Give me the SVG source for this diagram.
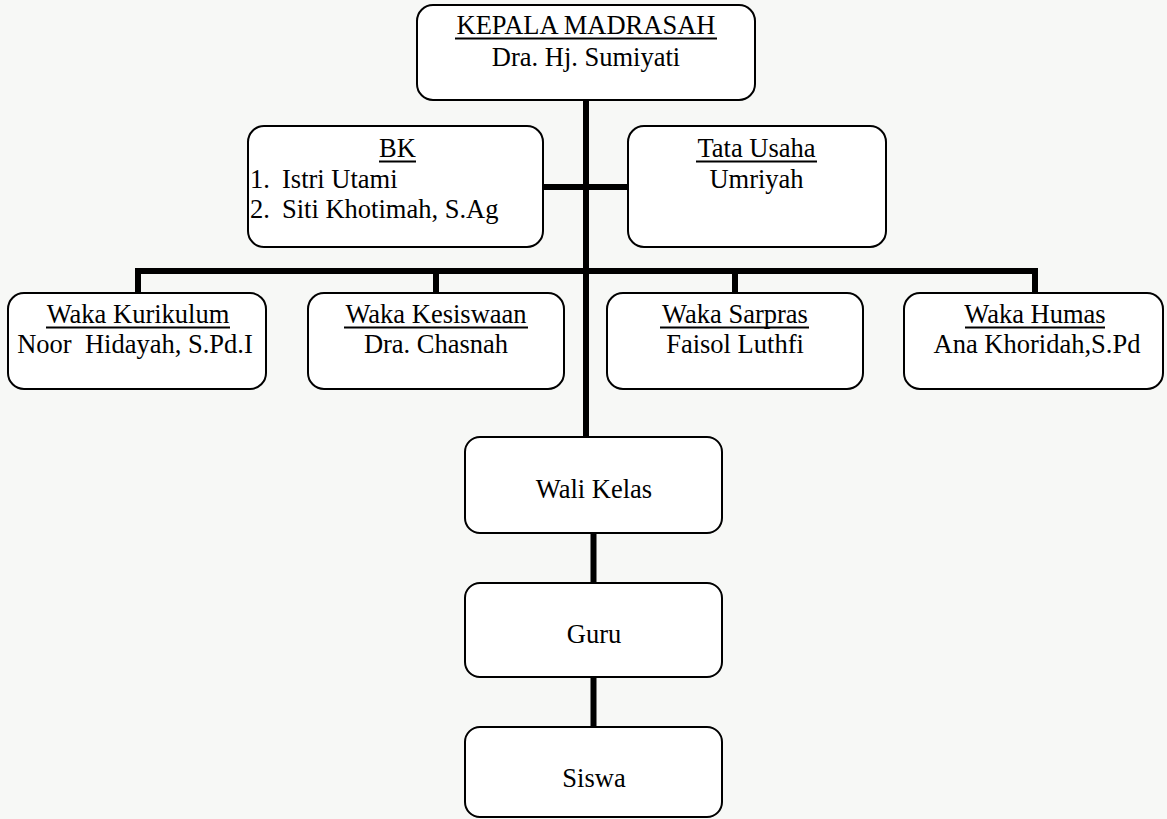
<svg xmlns="http://www.w3.org/2000/svg" width="1167" height="819" viewBox="0 0 1167 819">
<style>
.box{fill:#ffffff;stroke:#000000;stroke-width:2}
.t{font-family:"Liberation Serif","Times New Roman",serif;font-size:26.5px;fill:#000000}
.c{text-anchor:middle}
.ul{stroke:#000000;stroke-width:2}
.con{fill:none;stroke:#000000;stroke-width:6;stroke-linejoin:miter}
</style>
<rect x="0" y="0" width="1167" height="819" fill="#f7f8f6"/>
<g id="connectors">
<path class="con" d="M586,100 V437"/>
<path class="con" d="M543,187 H628"/>
<path class="con" d="M138,293 V271 H1035 V293"/>
<path class="con" d="M436,271 V293"/>
<path class="con" d="M735,271 V293"/>
<path class="con" d="M593.5,533 V583"/>
<path class="con" d="M593.5,677 V727"/>
</g>
<g id="kepala">
<rect class="box" x="417" y="5" width="338" height="95" rx="16"/>
<text class="t c" x="586" y="34">KEPALA MADRASAH</text>
<line class="ul" x1="455" y1="38.5" x2="717" y2="38.5"/>
<text class="t c" x="586" y="66">Dra. Hj. Sumiyati</text>
</g>
<g id="bk">
<rect class="box" x="248" y="126" width="295" height="121" rx="16"/>
<text class="t c" x="397.5" y="157">BK</text>
<line class="ul" x1="379" y1="161.5" x2="416" y2="161.5"/>
<text class="t" x="250" y="188">1.</text>
<text class="t" x="282" y="188">Istri Utami</text>
<text class="t" x="250" y="218">2.</text>
<text class="t" x="282" y="218">Siti Khotimah, S.Ag</text>
</g>
<g id="tatausaha">
<rect class="box" x="628" y="126" width="258" height="121" rx="16"/>
<text class="t c" x="756.5" y="157">Tata Usaha</text>
<line class="ul" x1="696" y1="161.5" x2="817" y2="161.5"/>
<text class="t c" x="756.5" y="188">Umriyah</text>
</g>
<g id="kurikulum">
<rect class="box" x="8" y="293" width="258" height="96" rx="16"/>
<text class="t c" x="138" y="323">Waka Kurikulum</text>
<line class="ul" x1="46" y1="327.5" x2="230" y2="327.5"/>
<text class="t c" x="135" y="353" style="white-space:pre" xml:space="preserve">Noor  Hidayah, S.Pd.I</text>
</g>
<g id="kesiswaan">
<rect class="box" x="308" y="293" width="256" height="96" rx="16"/>
<text class="t c" x="436" y="323">Waka Kesiswaan</text>
<line class="ul" x1="344" y1="327.5" x2="528" y2="327.5"/>
<text class="t c" x="436" y="353">Dra. Chasnah</text>
</g>
<g id="sarpras">
<rect class="box" x="607" y="293" width="256" height="96" rx="16"/>
<text class="t c" x="735" y="323">Waka Sarpras</text>
<line class="ul" x1="660" y1="327.5" x2="809" y2="327.5"/>
<text class="t c" x="735" y="353">Faisol Luthfi</text>
</g>
<g id="humas">
<rect class="box" x="904" y="293" width="259" height="96" rx="16"/>
<text class="t c" x="1035" y="323">Waka Humas</text>
<line class="ul" x1="965" y1="327.5" x2="1105" y2="327.5"/>
<text class="t c" x="1037" y="353">Ana Khoridah,S.Pd</text>
</g>
<g id="walikelas">
<rect class="box" x="465" y="437" width="257" height="96" rx="15"/>
<text class="t c" x="594" y="498">Wali Kelas</text>
</g>
<g id="guru">
<rect class="box" x="465" y="583" width="257" height="94" rx="15"/>
<text class="t c" x="594" y="643">Guru</text>
</g>
<g id="siswa">
<rect class="box" x="465" y="727" width="257" height="90" rx="15"/>
<text class="t c" x="594" y="787">Siswa</text>
</g>
</svg>
